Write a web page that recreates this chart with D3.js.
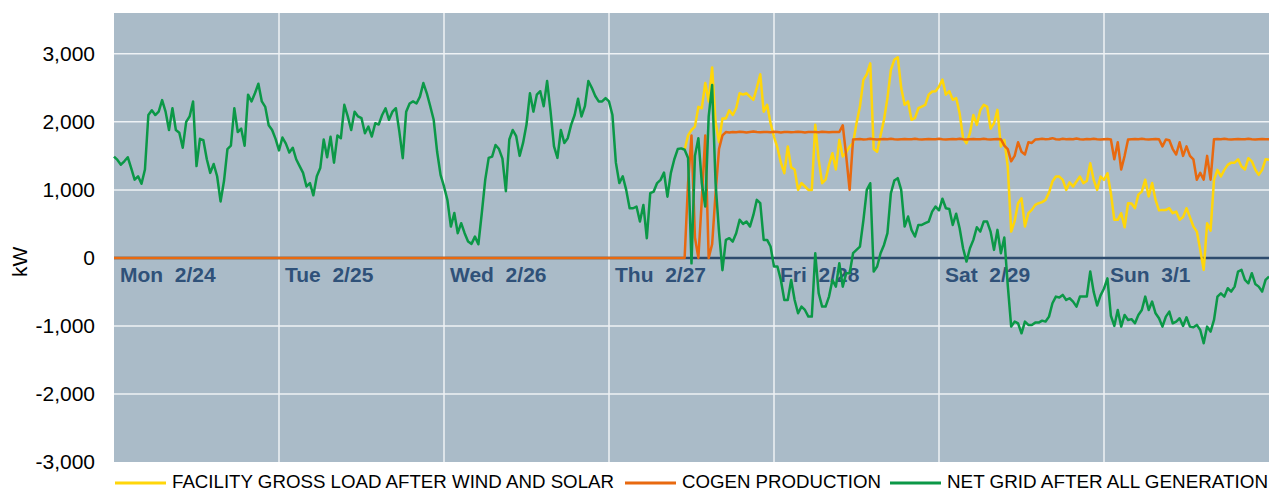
<!DOCTYPE html>
<html>
<head>
<meta charset="utf-8">
<script src="https://cdn.jsdelivr.net/npm/d3@7"></script>
<style>
  body { margin: 0; background: #fff; }
  svg { display: block; font-family: Arial, "Liberation Sans", sans-serif; }
</style>
</head>
<body>
<div id="chart"></div>
<script>
"use strict";
// half-hourly readings, Mon 2/24 00:00 through Sun 3/1 24:00 (337 points)
const stepHours = 0.5

const dayLabels = ["Mon  2/24", "Tue  2/25", "Wed  2/26", "Thu  2/27", "Fri  2/28", "Sat  2/29", "Sun  3/1"]
const yTicks = [-3000, -2000, -1000, 0, 1000, 2000, 3000]
const yGrid = [-2000, -1000, 1000, 2000, 3000]
const seriesNames = ["FACILITY GROSS LOAD AFTER WIND AND SOLAR", "COGEN PRODUCTION", "NET GRID AFTER ALL GENERATION"]

// net grid after all generation, kW
const netGrid = [
    1490, 1440, 1370, 1420, 1480, 1320, 1150, 1200, 1090, 1300,
    2100, 2170, 2100, 2150, 2320, 2150, 1880, 2200, 1880, 1840,
    1620, 2000, 2080, 2300, 1350, 1750, 1730, 1450, 1250, 1380,
    1200, 830, 1130, 1600, 1650, 2200, 1850, 1900, 1650, 2400,
    2300, 2420, 2560, 2300, 2220, 1950, 1880, 1750, 1580, 1770,
    1680, 1550, 1620, 1450, 1350, 1250, 1050, 1100, 920, 1200,
    1320, 1740, 1480, 1780, 1400, 1800, 1760, 2250, 2080, 1880,
    2150, 2080, 2054, 1833, 1931, 1784, 1980, 1960, 2100, 2200,
    2030, 2150, 2200, 1860, 1466, 2150, 2270, 2300, 2270, 2370,
    2570, 2420, 2230, 2030, 1560, 1220, 1050, 850, 460, 660,
    363, 510, 363, 240, 206, 313, 200, 660, 1150, 1470,
    1490, 1660, 1600, 1460, 980, 1740, 1880, 1790, 1500, 1690,
    1960, 2420, 2150, 2400, 2450, 2230, 2600, 2150, 1640, 1470,
    1880, 1690, 1760, 1960, 2100, 2340, 2080, 2230, 2600, 2500,
    2380, 2300, 2300, 2350, 2300, 2100, 1400, 1100, 1200, 1000,
    730, 730, 755, 534, 779, 289, 951, 975, 1100, 1147,
    1255, 900, 1250, 1450, 1600, 1610, 1590, 1470, -80, 1500,
    1760, 1100, 755, 2080, 2540, 1100, 387, -180, 265, 290,
    240, 363, 560, 500, 534, 461, 632, 853, 804, 265,
    265, 167, -127, -127, -324, -618, -618, -324, -618, -814,
    -716, -765, -863, -863, 69, -520, -716, -716, -569, -324,
    -422, -78, -422, -225, -225, 69, 118, 167, 550, 1000,
    1098, -200, -127, 69, 191, 363, 951, 1137, 1172, 1000,
    461, 608, 412, 314, 485, 485, 510, 534, 681, 755,
    700, 870, 730, 720, 485, 650, 436, 142, -54, 142,
    265, 450, 387, 534, 534, 387, 118, 412, 69, 300,
    -400, -1010, -936, -961, -1108, -936, -985, -985, -951, -951,
    -922, -936, -863, -667, -569, -583, -544, -618, -593, -642,
    -716, -569, -569, -569, -200, -500, -700, -550, -450, -300,
    -850, -1000, -765, -1010, -838, -912, -900, -961, -838, -765,
    -569, -765, -642, -814, -887, -1010, -863, -789, -961, -936,
    -887, -1000, -873, -1010, -1020, -985, -1059, -1255, -1010, -1083,
    -912, -569, -520, -569, -446, -495, -422, -201, -176, -324,
    -373, -225, -382, -422, -495, -324, -275
]

// cogen production, kW
const cogen = [
    0,0,0,0,0,0,0,0,0,0,0,0,0,0,0,0,0,0,0,0,0,0,0,0,
    0,0,0,0,0,0,0,0,0,0,0,0,0,0,0,0,0,0,0,0,0,0,0,0,
    0,0,0,0,0,0,0,0,0,0,0,0,0,0,0,0,0,0,0,0,0,0,0,0,
    0,0,0,0,0,0,0,0,0,0,0,0,0,0,0,0,0,0,0,0,0,0,0,0,
    0,0,0,0,0,0,0,0,0,0,0,0,0,0,0,0,0,0,0,0,0,0,0,0,
    0,0,0,0,0,0,0,0,0,0,0,0,0,0,0,0,0,0,0,0,0,0,0,0,
    0,0,0,0,0,0,0,0,0,0,0,0,0,0,0,0,0,0,0,0,0,0,0,
    1100, 1800, 300, 0, 853, 1800, 0, 200, 951, 1600, 1800,
    1850, 1845, 1852, 1848, 1855, 1850, 1843, 1850, 1858, 1850, 1846, 1852,
    1850, 1848, 1855, 1850, 1845, 1850, 1852, 1848, 1850, 1856, 1850, 1844,
    1850, 1852, 1850, 1848, 1855, 1850, 1846, 1850, 1852, 1850,
    1950, 1500, 1000, 1740,
    1745, 1748, 1742, 1745, 1750, 1745, 1740, 1745, 1748, 1745, 1752, 1745,
    1742, 1745, 1748, 1745, 1745, 1750, 1745, 1742, 1745, 1748, 1745, 1745,
    1750, 1745, 1742, 1745, 1748, 1745, 1752, 1745, 1742, 1745, 1748, 1745,
    1745, 1750, 1745, 1742, 1745, 1748, 1745,
    1650, 1600, 1420, 1500, 1700, 1560, 1520, 1700, 1690, 1740,
    1745, 1750, 1745, 1748, 1760, 1745, 1742, 1750, 1745, 1748, 1745,
    1755, 1745, 1742, 1748, 1745, 1750, 1745, 1742, 1745, 1748,
    1740, 1450, 1700, 1300, 1500, 1740,
    1745, 1748, 1745, 1750, 1745, 1742, 1745, 1748, 1745,
    1640, 1740, 1730, 1600, 1520, 1700, 1500, 1640, 1500, 1450, 1150, 1250, 1150, 1500, 1150,
    1745, 1748, 1745, 1750, 1745, 1742, 1745, 1748, 1745, 1745, 1750, 1745,
    1742, 1745, 1748, 1745, 1745
]

// gross load after wind and solar, kW; before Thu midday it sits under the net grid line
const grossFrom = 166
const grossLoad = [
    1590, 1800, 1880, 1930, 2220, 2200, 2570, 2300, 2800, 2000,
    1700, 2050, 2050, 2170, 2100, 2200, 2420, 2400, 2420, 2370,
    2324, 2500, 2700, 2150, 2250, 1980, 1780, 1620, 1400, 1245,
    1637, 1330, 1300, 1000, 1100, 1050, 1000, 1000, 1956, 1441,
    1098, 1150, 1368, 1539, 1300, 1735, 1490, 1550, 1637, 1686,
    1980, 2225, 2618, 2700, 2860, 1600, 1560, 1800, 2030, 2348,
    2765, 2912, 2950, 2500, 2250, 2300, 2030, 2054, 2200, 2225,
    2250, 2400, 2446, 2450, 2520, 2620, 2400, 2450, 2324, 2350,
    2127, 1760, 1686, 1833, 2100, 1956, 2170, 2250, 2225, 1900,
    1980, 2176, 1637, 1735, 1343, 387, 540, 804, 877, 461,
    657, 706, 779, 804, 820, 853, 960, 1123, 1196, 1196,
    1147, 1000, 1110, 1049, 1123, 1196, 1100, 1130, 1392, 1147,
    1000, 1196, 1147, 1245, 951, 560, 560, 657, 450, 804,
    800, 730, 930, 975, 1150, 902, 1100, 853, 700, 706,
    706, 730, 657, 681, 560, 600, 730, 600, 461, 387,
    118, -176, 510, 400, 1147, 1294, 1196, 1294, 1368, 1400,
    1400, 1450, 1343, 1300, 1466, 1420, 1300, 1220, 1294, 1450, 1441
]

const colors = {
    bg: "#AABBC8",
    grid: "#EEF2F5",
    axis: "#2D4B6D",
    day: "#2F5179",
    gross: "#FFD60A",
    cogen: "#E8690F",
    net: "#0B9847"
}

const width = 1269
const height = 491
const plot = { left: 114, right: 1269, top: 13, bottom: 462 }

const svg = d3.select("#chart").append("svg")
    .attr("width", width)
    .attr("height", height)

const x = d3.scaleLinear().domain([0, 168]).range([plot.left, plot.right])
const y = d3.scaleLinear().domain([-3000, 3600]).range([plot.bottom, plot.top])

// plot background
svg.append("rect")
    .attr("x", plot.left)
    .attr("y", plot.top)
    .attr("width", plot.right - plot.left)
    .attr("height", plot.bottom - plot.top)
    .attr("fill", colors.bg)

// grid
svg.append("g").selectAll("line")
    .data(yGrid)
    .join("line")
    .attr("x1", plot.left).attr("x2", plot.right)
    .attr("y1", d => y(d)).attr("y2", d => y(d))
    .attr("stroke", colors.grid)
    .attr("stroke-width", 1.5)

svg.append("g").selectAll("line")
    .data(d3.range(1, dayLabels.length))
    .join("line")
    .attr("x1", d => x(d * 24)).attr("x2", d => x(d * 24))
    .attr("y1", plot.top).attr("y2", plot.bottom)
    .attr("stroke", colors.grid)
    .attr("stroke-width", 1.5)

// y axis labels (plain hyphen for negatives, as in the original)
const kwFormat = d3.formatLocale({ decimal: ".", thousands: ",", grouping: [3], currency: ["", ""], minus: "-" }).format(",")
const yAxis = d3.axisLeft(y)
    .tickValues(yTicks)
    .tickFormat(kwFormat)
    .tickSize(0)
    .tickPadding(19)
svg.append("g")
    .attr("transform", `translate(${plot.left},0)`)
    .call(yAxis)
    .call(g => g.select(".domain").remove())
    .selectAll("text")
    .attr("font-size", "21px")
    .attr("font-family", "Arial, 'Liberation Sans', sans-serif")
    .attr("fill", "#000")

svg.append("text")
    .attr("transform", `translate(27,${y(0) + 4}) rotate(-90)`)
    .attr("text-anchor", "middle")
    .attr("font-size", "21px")
    .text("kW")

// zero line
svg.append("line")
    .attr("x1", plot.left).attr("x2", plot.right)
    .attr("y1", y(0)).attr("y2", y(0))
    .attr("stroke", colors.axis)
    .attr("stroke-width", 2.5)

// day labels sit just under the zero line
svg.append("g").selectAll("text")
    .data(dayLabels)
    .join("text")
    .attr("x", (d, i) => x(i * 24) + 6)
    .attr("y", y(0) + 24)
    .attr("font-size", "21px")
    .attr("font-weight", "bold")
    .attr("fill", colors.day)
    .style("white-space", "pre")
    .text(d => d)

// series
function drawSeries(values, offset, color) {
    const line = d3.line()
        .x((d, i) => x((offset + i) * stepHours))
        .y(d => y(d))
    svg.append("path")
        .datum(values)
        .attr("d", line)
        .attr("fill", "none")
        .attr("stroke", color)
        .attr("stroke-width", 2.5)
        .attr("stroke-linejoin", "round")
}
drawSeries(grossLoad, grossFrom, colors.gross)
drawSeries(cogen, 0, colors.cogen)
drawSeries(netGrid, 0, colors.net)

// legend: swatch start and text width for each entry
const legendColors = [colors.gross, colors.cogen, colors.net]
const legendX = [115, 625, 890]
const legendTextW = [442, 199, 321]
const legend = svg.append("g").attr("transform", "translate(0,483)")
seriesNames.forEach((name, i) => {
    legend.append("line")
        .attr("x1", legendX[i]).attr("x2", legendX[i] + 51)
        .attr("y1", 0).attr("y2", 0)
        .attr("stroke", legendColors[i])
        .attr("stroke-width", 3)
    legend.append("text")
        .attr("x", legendX[i] + 57)
        .attr("y", 5)
        .attr("font-size", "18px")
        .attr("textLength", legendTextW[i])
        .attr("lengthAdjust", "spacingAndGlyphs")
        .attr("fill", "#000")
        .text(name)
})
</script>
</body>
</html>
